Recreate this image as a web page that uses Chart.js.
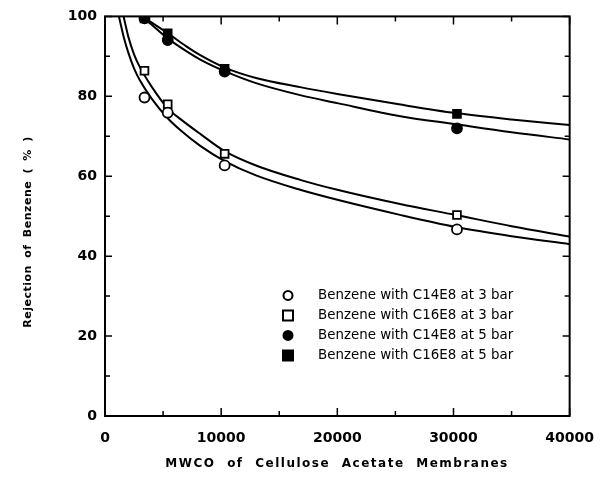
<!DOCTYPE html>
<html>
<head>
<meta charset="utf-8">
<script src="https://cdn.jsdelivr.net/npm/chart.js@4.4.1/dist/chart.umd.min.js"></script>
<style>
  html, body { margin: 0; padding: 0; background: #fff; }
  #wrap { width: 608px; height: 484px; }
</style>
</head>
<body>
<div id="wrap"><canvas id="c" width="608" height="484"></canvas></div>
<script>
// ---------- Data ----------
const mwco = [3400, 5400, 10300, 30300];
const c14e8At3 = [79.7, 75.9, 62.7, 46.7];
const c16e8At3 = [86.4, 78.0, 65.6, 50.3];
const c14e8At5 = [99.5, 94.1, 86.2, 72.0];
const c16e8At5 = [99.5, 95.8, 86.9, 75.6];

// fitted curves, traced point by point
const fitC14At3X = [1200, 1600, 2000, 2500, 3000, 4000, 5400, 6500, 8200, 10300, 13000, 16800, 20000, 25300, 30200, 35000, 40000];
const fitC14At3Y = [100, 95, 91, 87, 84, 79.5, 74.5, 71.5, 67.6, 63.8, 60.2, 56.6, 54.1, 50.4, 47.3, 45, 43.0];
const fitC16At3X = [1600, 2000, 2500, 3000, 4000, 5400, 6500, 8200, 10300, 13000, 16800, 20000, 25300, 30200, 35000, 40000];
const fitC16At3Y = [100, 95, 90.5, 87.3, 82.5, 77, 74.3, 70.6, 66.3, 62.7, 59.1, 56.6, 53.1, 50.3, 47.5, 44.9];
const fitAt5X = [3200, 4000, 5400, 7000, 8200, 10300, 13000, 16800, 20000, 25300, 30200, 35000, 40000];
const fitC16At5Y = [100, 98.5, 95.8, 92.5, 90.3, 87.2, 84.6, 82.3, 80.6, 78, 75.8, 74.2, 72.8];
const fitC14At5Y = [100, 98, 94.5, 91.3, 89.2, 86.3, 83.3, 80.3, 78.3, 75.1, 73, 71, 69.2];

const legendLabels = [
  "Benzene with C14E8 at 3 bar",
  "Benzene with C16E8 at 3 bar",
  "Benzene with C14E8 at 5 bar",
  "Benzene with C16E8 at 5 bar",
];

// ---------- Helpers ----------
const pts = (xs, ys) => xs.map((x, i) => ({ x, y: ys[i] }));
const marker = (label, ys, style, filled) => ({
  label, data: pts(mwco, ys), showLine: false,
  pointStyle: style, pointRadius: style === "rect" ? 5.5 : 5, pointHoverRadius: 5,
  pointBorderWidth: 1.8, pointBorderColor: "#000",
  pointBackgroundColor: filled ? "#000" : "#fff",
  isMarker: true, order: 0,
});
const curve = (xs, ys) => ({
  data: pts(xs, ys), showLine: true, pointRadius: 0, borderColor: "#000",
  borderWidth: 2, cubicInterpolationMode: "monotone", fill: false, order: 1,
});

// ---------- Plugin: frame, inward ticks, legend, axis titles ----------
const decor = {
  id: "decor",
  afterDraw(chart) {
    const { ctx, chartArea: a, scales: { x, y } } = chart;
    ctx.save();
    ctx.strokeStyle = "#000";
    ctx.lineWidth = 2;
    ctx.strokeRect(a.left, a.top, a.right - a.left, a.bottom - a.top);

    ctx.lineWidth = 1.5;
    ctx.beginPath();
    x.ticks.forEach(t => {
      const px = x.getPixelForValue(t.value);
      const len = t.value % 10000 === 0 ? 8 : 5;
      ctx.moveTo(px, a.bottom); ctx.lineTo(px, a.bottom - len);
      ctx.moveTo(px, a.top); ctx.lineTo(px, a.top + len);
    });
    y.ticks.forEach(t => {
      const py = y.getPixelForValue(t.value);
      const len = t.value % 20 === 0 ? 7 : 5;
      ctx.moveTo(a.left, py); ctx.lineTo(a.left + len, py);
      ctx.moveTo(a.right, py); ctx.lineTo(a.right - len, py);
    });
    ctx.stroke();

    // legend
    const markers = chart.data.datasets.filter(d => d.isMarker);
    ctx.font = "13.4px 'DejaVu Sans'";
    ctx.textBaseline = "middle";
    ctx.textAlign = "left";
    markers.forEach((d, i) => {
      const mx = a.left + 183, my = a.top + 279 + i * 20;
      ctx.fillStyle = d.pointBackgroundColor;
      ctx.lineWidth = 2;
      ctx.beginPath();
      if (d.pointStyle === "rect") ctx.rect(mx - 5, my - 5, 10, 10);
      else ctx.arc(mx, my, 4.5, 0, Math.PI * 2);
      ctx.fill(); ctx.stroke();
      ctx.fillStyle = "#000";
      ctx.fillText(d.label, a.left + 213, my);
    });

    // axis titles
    ctx.fillStyle = "#000";
    ctx.textAlign = "center";
    ctx.font = "bold 12px 'DejaVu Sans'";
    ctx.letterSpacing = "1.5px";
    ctx.wordSpacing = "6px";
    ctx.fillText("MWCO of Cellulose Acetate Membranes", 337, 464);
    ctx.font = "bold 11px 'DejaVu Sans'";
    ctx.letterSpacing = "0.5px";
    ctx.wordSpacing = "3px";
    ctx.translate(28, 232);
    ctx.rotate(-Math.PI / 2);
    ctx.fillText("Rejection of Benzene ( % )", 0, 0);
    ctx.restore();
  }
};

// ---------- Chart ----------
const tickFont = { family: "'DejaVu Sans'", size: 14, weight: "bold" };

new Chart(document.getElementById("c"), {
  type: "scatter",
  data: {
    datasets: [
      marker(legendLabels[0], c14e8At3, "circle", false),
      marker(legendLabels[1], c16e8At3, "rect", false),
      marker(legendLabels[2], c14e8At5, "circle", true),
      marker(legendLabels[3], c16e8At5, "rect", true),
      curve(fitC14At3X, fitC14At3Y),
      curve(fitC16At3X, fitC16At3Y),
      curve(fitAt5X, fitC16At5Y),
      curve(fitAt5X, fitC14At5Y),
    ]
  },
  options: {
    responsive: false,
    animation: false,
    layout: { padding: { left: 0, right: 35, top: 12, bottom: 0 } },
    plugins: { legend: { display: false }, tooltip: { enabled: false } },
    scales: {
      x: {
        type: "linear", min: 0, max: 40000,
        grid: { display: false, drawTicks: false },
        border: { display: false },
        ticks: {
          stepSize: 5000, padding: 14, color: "#000", font: tickFont,
          maxRotation: 0, autoSkip: false,
          callback: v => v % 10000 === 0 ? String(v) : ""
        },
        afterFit: s => { s.height = 68; }
      },
      y: {
        type: "linear", min: 0, max: 100,
        grid: { display: false, drawTicks: false },
        border: { display: false },
        ticks: {
          stepSize: 10, padding: 8, color: "#000", font: tickFont,
          callback: v => v % 20 === 0 ? String(v) : ""
        },
        afterFit: s => { s.width = 105; }
      }
    }
  },
  plugins: [decor]
});
</script>
</body>
</html>
